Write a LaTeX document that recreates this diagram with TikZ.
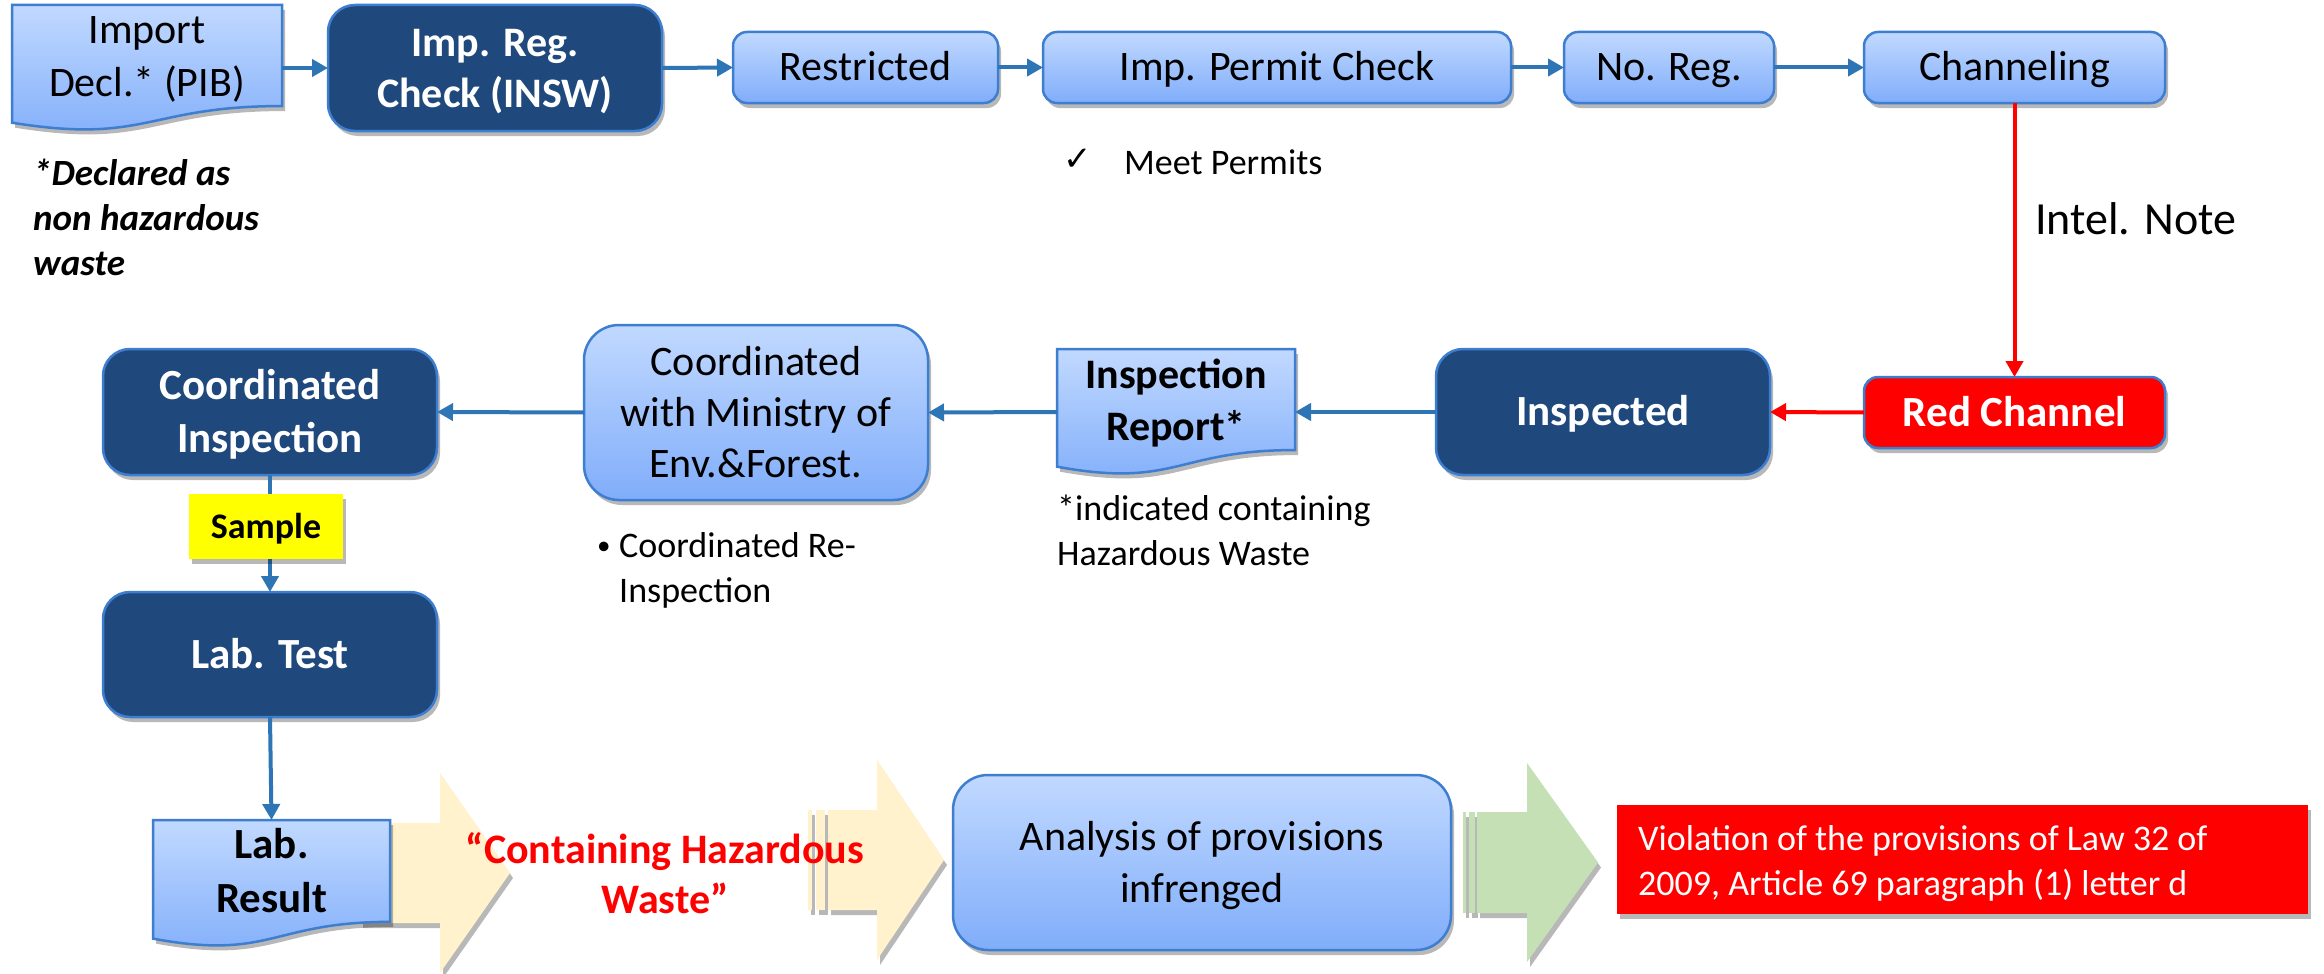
\documentclass[tikz,border=0pt]{standalone}
\usepackage{fontspec}
\setmainfont{Carlito}
\newfontfamily\symfont{DejaVu Sans}
\usetikzlibrary{arrows.meta,shadows}

\definecolor{navy}{RGB}{31,73,125}
\definecolor{edgeblue}{RGB}{62,126,208}
\definecolor{lighttop}{RGB}{193,217,255}
\definecolor{lightbot}{RGB}{128,173,250}
\definecolor{flowblue}{RGB}{46,117,182}
\definecolor{paleyellow}{RGB}{255,242,204}
\definecolor{palegreen}{RGB}{197,224,180}
\definecolor{hotred}{RGB}{255,0,0}
\definecolor{marker}{RGB}{255,255,0}

% stacked lines whose baseline is the first line
\newcommand\lines[2]{\begin{tabular}[t]{@{}#1@{}}#2\end{tabular}}
% flowchart "document" outline: style, left, top, width, height (y grows downwards)
\newcommand\docoutline[5]{%
  \path[#1] (#2,#3) -- (#2+#4,#3) -- (#2+#4,#3+0.802*#5)
    .. controls (#2+0.5*#4,#3+0.802*#5) and (#2+0.5*#4,#3+1.1075*#5) .. (#2,#3+0.934*#5) -- cycle;}

\begin{document}
\begin{tikzpicture}[x=1pt,y=-1pt,
  shadowed/.style={drop shadow={shadow xshift=3pt,shadow yshift=-5pt,opacity=0.28,fill=black}},
  frame/.style={rectangle,inner sep=0pt,outer sep=0pt},
  lightbox/.style={frame,rounded corners=14pt,draw=edgeblue,line width=2.5pt,
    top color=lighttop,bottom color=lightbot,shadowed,
    font=\fontsize{42}{51}\selectfont,text height=27pt,text depth=0pt},
  darkbox/.style={frame,rounded corners=27pt,draw=edgeblue,line width=2.5pt,
    fill=navy,shadowed,text=white,
    font=\bfseries\fontsize{43}{52}\selectfont,text height=27.7pt,text depth=0pt},
  redbox/.style={frame,rounded corners=14pt,draw=edgeblue,line width=2.5pt,
    fill=hotred,shadowed,text=white,
    font=\bfseries\fontsize{43}{52}\selectfont,text height=27.7pt,text depth=0pt},
  docfill/.style={draw=edgeblue,line width=2.5pt,top color=lighttop,bottom color=lightbot,shadowed},
  doctext/.style={inner sep=0pt,anchor=base,font=\bfseries\fontsize{42}{52}\selectfont},
  note/.style={inner sep=0pt,anchor=base west,font=\fontsize{36}{45}\selectfont},
  yellowarrow/.style={fill=paleyellow,shadowed},
  greenarrow/.style={fill=palegreen,shadowed},
  flow/.style={draw=flowblue,line width=4pt,-{Triangle[length=16pt,width=17pt]}},
  redflow/.style={draw=hotred,line width=4pt,-{Triangle[length=16pt,width=17pt]}}
]
\fill[white] (0,0) rectangle (2324,974);
\useasboundingbox (0,0) rectangle (2324,974);

% ---- block arrows of the bottom row ----
\path[yellowarrow] (360,823) -- (440,823) -- (440,773) -- (510,873) -- (440,973) -- (440,923) -- (360,923) -- cycle;
\path[yellowarrow] (808,810) rectangle (812,910);
\path[yellowarrow] (816,810) rectangle (825,910);
\path[yellowarrow] (828,810) -- (877,810) -- (877,760) -- (944,860) -- (877,960) -- (877,910) -- (828,910) -- cycle;
\path[greenarrow] (1463,812) rectangle (1466,913);
\path[greenarrow] (1469,812) rectangle (1475,913);
\path[greenarrow] (1477,812) -- (1527,812) -- (1527,763) -- (1598,862.5) -- (1527,962) -- (1527,913) -- (1477,913) -- cycle;

% ---- top row ----
\docoutline{docfill}{12}{5}{270}{126}
\node[frame,minimum width=270pt,minimum height=126pt] (pib) at (147,68) {};
\node[doctext,font=\fontsize{42}{53}\selectfont] (pibtext) at (147,44) {\lines{c}{Import\\Decl.* (PIB)}};

\node[darkbox,minimum width=334pt,minimum height=126pt,text depth=51pt,
      font=\bfseries\fontsize{42}{51}\selectfont] (impreg) at (495,68) {\lines{c}{Imp. Reg.\\Check (INSW)}};
\node[lightbox,minimum width=265pt,minimum height=71pt] (restricted) at (865.5,67.5) {Restricted};
\node[lightbox,minimum width=468pt,minimum height=71pt] (permit) at (1277,67.5) {Imp. Permit Check};
\node[lightbox,minimum width=210pt,minimum height=71pt] (noreg) at (1669,67.5) {No. Reg.};
\node[lightbox,minimum width=301pt,minimum height=71pt] (channel) at (2014.5,67.5) {Channeling};

\node[note,font=\bfseries\itshape\fontsize{37}{45}\selectfont] (declared) at (33,185)
  {\lines{l}{*Declared as\\non hazardous\\waste}};
\node[note,font=\symfont\fontsize{34}{40}\selectfont] (tick) at (1063,170) {✓};
\node[note] (meet) at (1124,174) {Meet Permits};
\node[note,font=\fontsize{46}{55}\selectfont] (intel) at (2035,234) {Intel. Note};

% ---- middle row ----
\node[redbox,minimum width=301pt,minimum height=71pt] (redch) at (2014.5,412.5) {Red Channel};
\node[darkbox,minimum width=334pt,minimum height=126pt] (inspected) at (1603,412) {Inspected};

\docoutline{docfill}{1057}{349}{238}{126}
\node[frame,minimum width=238pt,minimum height=126pt] (report) at (1176,412) {};
\node[doctext] (reporttext) at (1176,388) {\lines{c}{Inspection\\Report*}};
\node[note] (reportnote) at (1057,520) {\lines{l}{*indicated containing\\Hazardous Waste}};

\node[lightbox,rounded corners=35pt,minimum width=344pt,minimum height=175pt,text depth=102pt]
  (ministry) at (756,412.5) {\lines{c}{Coordinated\\with Ministry of\\Env.\&Forest.}};
\node[note,font=\fontsize{27}{32}\selectfont] (bullet) at (597,554) {•};
\node[note] (reinspect) at (619,557) {\lines{l}{Coordinated Re-\\Inspection}};

\node[darkbox,minimum width=334pt,minimum height=126pt,text depth=53pt,
      font=\bfseries\fontsize{43}{53}\selectfont] (coord) at (270,412) {\lines{c}{Coordinated\\Inspection}};

% ---- left column and bottom row ----
\node[darkbox,minimum width=334pt,minimum height=125pt] (labtest) at (270,654.5) {Lab. Test};

\docoutline{docfill}{153}{820}{237}{127}
\node[frame,minimum width=237pt,minimum height=127pt] (labres) at (271.5,883.5) {};
\node[doctext,font=\bfseries\fontsize{43}{54}\selectfont] (labrestext) at (271.5,858) {\lines{c}{Lab.\\Result}};

\node[lightbox,rounded corners=35pt,minimum width=498pt,minimum height=175pt,text depth=52pt,
      font=\fontsize{42}{52}\selectfont] (analysis) at (1202,862.5) {\lines{c}{Analysis of provisions\\infrenged}};

\node[frame,fill=hotred,shadowed,minimum width=691pt,minimum height=109pt] (violation) at (1962.5,859.5) {};
\node[note,text=white] (violationtext) at (1638,850)
  {\lines{l}{Violation of the provisions of Law 32 of\\2009, Article 69 paragraph (1) letter d}};

% ---- connectors ----
\draw[flow] (pib.east) -- (impreg.west);
\draw[flow] (impreg.east) -- (restricted.west);
\draw[flow] (restricted.east) -- (permit.west);
\draw[flow] (permit.east) -- (noreg.west);
\draw[flow] (noreg.east) -- (channel.west);
\draw[redflow] (channel.south) -- (redch.north);
\draw[redflow] (redch.west) -- (inspected.east);
\draw[flow] (inspected.west) -- (report.east);
\draw[flow] (report.west) -- (ministry.east);
\draw[flow] (ministry.west) -- (coord.east);
\draw[flow] (coord.south) -- (labtest.north);
\draw[flow] (labtest.south) -- (labres.north);

% label sitting on the sampling connector
\node[frame,fill=marker,shadowed,minimum width=154pt,minimum height=65pt,
      font=\bfseries\fontsize{36}{44}\selectfont,text height=23pt,text depth=0pt] (sample) at (266,526.5) {Sample};

% lab finding
\node[doctext,font=\bfseries\fontsize{42}{50}\selectfont,text=hotred] (hazard) at (665,863)
  {\lines{c}{“Containing Hazardous\\Waste”}};
\end{tikzpicture}
\end{document}
